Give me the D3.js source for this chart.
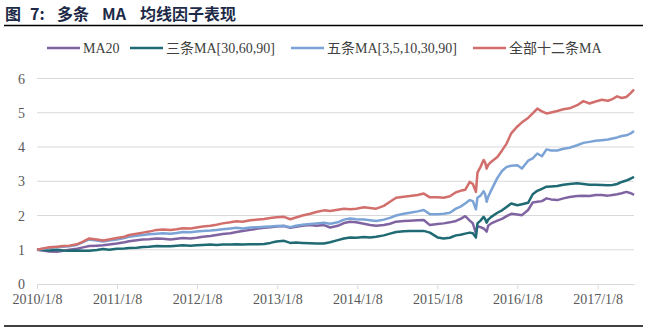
<!DOCTYPE html>
<html>
<head>
<meta charset="utf-8">
<script src="https://cdn.jsdelivr.net/npm/d3@7"></script>
<style>
  body { margin: 0; background: #fff; }
  svg { display: block; }
</style>
</head>
<body>
<script>
// weekly-ish sample dates (denser around the 2015 swings)
const dates = [
  "2010-01-08","2010-02-05","2010-03-05","2010-04-09","2010-05-07","2010-06-04","2010-07-09","2010-08-06","2010-09-03","2010-10-08","2010-11-05","2010-12-03",
  "2011-01-07","2011-02-11","2011-03-04","2011-04-08","2011-05-06","2011-06-03","2011-07-08","2011-08-05","2011-09-09","2011-10-07","2011-11-04","2011-12-09",
  "2012-01-06","2012-02-03","2012-03-09","2012-04-06","2012-05-04","2012-06-08","2012-07-06","2012-08-03","2012-09-07","2012-10-12","2012-11-09","2012-12-07",
  "2013-01-04","2013-02-08","2013-03-08","2013-04-03","2013-05-03","2013-06-07","2013-07-05","2013-08-09","2013-09-06","2013-10-11","2013-11-08","2013-12-06",
  "2014-01-03","2014-02-07","2014-03-07","2014-04-04","2014-05-09","2014-06-06","2014-07-04","2014-08-08","2014-09-05","2014-10-10","2014-11-07","2014-12-05",
  "2015-01-09","2015-02-06","2015-03-06","2015-04-03","2015-04-24","2015-05-15","2015-06-05","2015-06-19","2015-07-03","2015-07-10",
  "2015-07-24","2015-08-07","2015-08-14","2015-08-21","2015-08-28","2015-09-11","2015-10-09","2015-10-30","2015-11-20","2015-12-11",
  "2016-01-08","2016-01-29","2016-02-26","2016-03-18","2016-04-08","2016-04-29","2016-05-20","2016-06-10","2016-07-08","2016-08-05",
  "2016-09-02","2016-10-07","2016-11-04","2016-12-02","2016-12-30",
  "2017-01-27","2017-02-24","2017-03-17","2017-04-07","2017-04-28","2017-05-19","2017-06-09","2017-06-23"
];

const ma20 = [
  1.00,0.98,0.95,0.94,0.97,1.00,1.03,1.07,1.11,1.12,1.13,1.15,
  1.18,1.22,1.25,1.28,1.30,1.31,1.33,1.32,1.30,1.32,1.34,1.33,
  1.35,1.38,1.40,1.43,1.46,1.48,1.52,1.55,1.58,1.62,1.64,1.66,
  1.68,1.69,1.64,1.67,1.70,1.72,1.70,1.72,1.65,1.70,1.78,1.82,
  1.80,1.76,1.72,1.70,1.72,1.76,1.82,1.84,1.85,1.86,1.87,1.72,
  1.75,1.77,1.80,1.84,1.90,1.98,1.85,1.77,1.48,1.69,
  1.66,1.62,1.58,1.53,1.70,1.77,1.85,1.90,1.98,2.05,
  2.03,2.01,2.16,2.38,2.40,2.42,2.50,2.47,2.45,2.50,
  2.54,2.57,2.58,2.57,2.60,
  2.60,2.58,2.60,2.62,2.65,2.69,2.65,2.60
];

const ma3 = [
  1.00,0.99,0.98,1.00,0.98,0.97,0.98,0.97,0.97,0.99,1.02,1.00,
  1.03,1.04,1.05,1.06,1.08,1.09,1.11,1.10,1.10,1.12,1.13,1.12,
  1.13,1.14,1.15,1.14,1.15,1.15,1.16,1.15,1.16,1.16,1.17,1.20,
  1.24,1.26,1.20,1.21,1.20,1.19,1.18,1.18,1.22,1.28,1.33,1.36,
  1.35,1.37,1.36,1.38,1.42,1.47,1.52,1.54,1.55,1.55,1.55,1.50,
  1.36,1.33,1.35,1.42,1.44,1.47,1.50,1.48,1.36,1.77,
  1.85,1.96,1.90,1.79,1.88,1.96,2.08,2.15,2.25,2.35,
  2.30,2.33,2.37,2.62,2.72,2.78,2.84,2.85,2.86,2.90,
  2.92,2.94,2.92,2.90,2.90,
  2.89,2.88,2.89,2.92,2.98,3.02,3.08,3.13
];

const ma5 = [
  1.00,1.03,1.05,1.07,1.09,1.10,1.14,1.22,1.30,1.27,1.24,1.27,
  1.30,1.34,1.38,1.41,1.43,1.45,1.47,1.48,1.47,1.49,1.52,1.51,
  1.53,1.55,1.56,1.58,1.60,1.62,1.64,1.62,1.65,1.66,1.67,1.68,
  1.69,1.70,1.66,1.70,1.73,1.75,1.77,1.79,1.76,1.80,1.88,1.91,
  1.89,1.88,1.86,1.84,1.88,1.93,2.00,2.05,2.08,2.12,2.16,2.04,
  2.04,2.05,2.08,2.20,2.26,2.35,2.45,2.42,2.18,2.52,
  2.58,2.71,2.62,2.40,2.55,2.74,3.10,3.30,3.42,3.45,
  3.47,3.37,3.60,3.67,3.81,3.73,3.93,3.90,3.90,3.95,
  3.98,4.05,4.12,4.15,4.18,
  4.20,4.22,4.25,4.28,4.32,4.34,4.40,4.47
];

const ma12 = [
  1.00,1.04,1.07,1.09,1.11,1.12,1.16,1.24,1.33,1.30,1.27,1.30,
  1.34,1.38,1.43,1.47,1.50,1.53,1.58,1.59,1.58,1.60,1.63,1.62,
  1.65,1.68,1.70,1.73,1.77,1.80,1.83,1.82,1.86,1.88,1.90,1.93,
  1.95,1.96,1.89,1.94,2.00,2.05,2.10,2.15,2.13,2.17,2.20,2.18,
  2.20,2.24,2.22,2.20,2.28,2.40,2.52,2.55,2.57,2.60,2.64,2.53,
  2.53,2.52,2.56,2.68,2.72,2.75,2.98,2.92,2.69,3.25,
  3.42,3.62,3.55,3.37,3.48,3.57,3.71,3.90,4.10,4.40,
  4.60,4.72,4.85,4.98,5.12,5.04,4.98,5.01,5.05,5.10,
  5.13,5.22,5.34,5.27,5.33,
  5.38,5.35,5.40,5.48,5.43,5.46,5.58,5.68
];

const seriesNames = ["MA20", "三条MA[30,60,90]", "五条MA[3,5,10,30,90]", "全部十二条MA"];
const seriesColors = ["#8064a2", "#1f6a73", "#7ba3d6", "#d26f6c"];
const yTicks = [0, 1, 2, 3, 4, 5, 6];
const xTickDates = ["2010-01-08","2011-01-08","2012-01-08","2013-01-08","2014-01-08","2015-01-08","2016-01-08","2017-01-08"];

const W = 664, H = 335;
const svg = d3.select("body").append("svg")
  .attr("width", W)
  .attr("height", H);

const parse = d3.timeParse("%Y-%m-%d");
const fmt = d3.timeFormat("%Y/%-m/%-d");
const dd = dates.map(parse);

const x = d3.scaleTime()
  .domain([dd[0], dd[dd.length - 1]])
  .range([37, 634]);
const y = d3.scaleLinear()
  .domain([0, 6])
  .range([284, 78.5]);

// title + rule under it
const title = svg.append("text")
  .attr("y", 20)
  .attr("font-family", "'Noto Sans CJK SC', sans-serif")
  .attr("font-weight", "bold")
  .attr("font-size", "16px")
  .attr("fill", "#1c2a48");
[["图", 5], ["7:", 30], ["多条", 57], ["MA", 102], ["均线因子表现", 140]].forEach(([t, px]) => {
  title.append("tspan").attr("x", px).text(t);
});
svg.append("line")
  .attr("x1", 4).attr("x2", 643)
  .attr("y1", 25.5).attr("y2", 25.5)
  .attr("stroke", "#000").attr("stroke-width", 1.5);

svg.append("line")
  .attr("x1", 4).attr("x2", 643)
  .attr("y1", 326).attr("y2", 326)
  .attr("stroke", "#000").attr("stroke-width", 1.5);

// grid lines
svg.append("g")
  .selectAll("line")
  .data(yTicks.filter(d => d > 0))
  .join("line")
  .attr("x1", x.range()[0]).attr("x2", x.range()[1])
  .attr("y1", d => y(d)).attr("y2", d => y(d))
  .attr("stroke", "#d9d9d9")
  .attr("stroke-width", 1);

// y labels
svg.append("g")
  .selectAll("text")
  .data(yTicks)
  .join("text")
  .attr("x", 25)
  .attr("y", d => y(d) + 5)
  .attr("text-anchor", "end")
  .attr("font-family", "'Liberation Serif', serif")
  .attr("font-size", "14px")
  .attr("fill", "#595959")
  .text(d => d);

// x axis
const xAxis = d3.axisBottom(x)
  .tickValues(xTickDates.map(parse))
  .tickFormat(fmt)
  .tickSize(5)
  .tickSizeOuter(0);
const gx = svg.append("g")
  .attr("transform", `translate(0,${y(0)})`)
  .call(xAxis);
gx.select(".domain").attr("stroke", "#d9d9d9");
gx.selectAll(".tick line").attr("stroke", "#d9d9d9");
gx.selectAll(".tick text")
  .attr("y", 10)
  .attr("font-family", "'Liberation Serif', serif")
  .attr("font-size", "14px")
  .attr("fill", "#595959");

// series lines
const allSeries = [ma20, ma3, ma5, ma12];
const line = d3.line()
  .x((d, i) => x(dd[i]))
  .y(d => y(d))
  .curve(d3.curveLinear);

svg.append("g")
  .selectAll("path")
  .data(allSeries)
  .join("path")
  .attr("d", d => line(d))
  .attr("fill", "none")
  .attr("stroke", (d, i) => seriesColors[i])
  .attr("stroke-width", 2.5)
  .attr("stroke-linejoin", "round");

// legend
const legendX = [47, 130, 291, 473];
const lg = svg.append("g")
  .selectAll("g")
  .data(seriesNames)
  .join("g")
  .attr("transform", (d, i) => `translate(${legendX[i]},48)`);
lg.append("line")
  .attr("x1", 0).attr("x2", 33)
  .attr("stroke", (d, i) => seriesColors[i])
  .attr("stroke-width", 2.5);
lg.append("text")
  .attr("x", 36)
  .attr("y", 5)
  .attr("font-family", "'Liberation Serif', 'Noto Sans CJK SC', serif")
  .attr("font-size", "14px")
  .attr("fill", "#404040")
  .text(d => d);
</script>
</body>
</html>
